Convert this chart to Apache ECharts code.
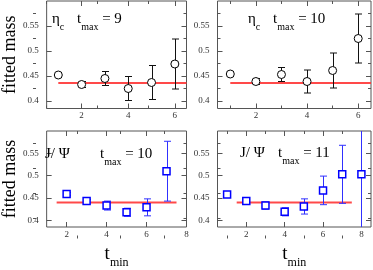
<!DOCTYPE html>
<html><head><meta charset="utf-8">
<script src="https://cdn.jsdelivr.net/npm/echarts@6/dist/echarts.min.js"></script>
<style>html,body{margin:0;padding:0;background:#fff}#c{width:373px;height:270px}</style>
</head><body><div id="c"></div>
<script>
// ---- data ----
const tEtac = [1, 2, 3, 4, 5, 6];
const etacMass9 = [0.452, 0.433, 0.445, 0.425, 0.437, 0.474];
const etacErr9 = [0.003, 0.006, 0.014, 0.024, 0.034, 0.050];
const etacMass10 = [0.454, 0.439, 0.453, 0.439, 0.461, 0.525];
const etacErr10 = [0.003, 0.006, 0.014, 0.023, 0.035, 0.049];
const tJpsi10 = [2, 3, 4, 5, 6, 7];
const jpsiMass10 = [0.459, 0.443, 0.433, 0.418, 0.429, 0.510];
const jpsiErr10 = [0.003, 0.004, 0.010, 0.009, 0.019, 0.067];
const tJpsi11 = [1, 2, 3, 4, 5, 6, 7, 8];
const jpsiMass11 = [0.458, 0.443, 0.433, 0.419, 0.431, 0.467, 0.503, 0.503];
const jpsiErr11 = [0.003, 0.003, 0.008, 0.009, 0.017, 0.032, 0.065, 0.130];
const fitEtac = 0.436;
const fitEtacRange = [1, 6.5];
const fitJpsi = 0.44;
const fitJpsiRange = [1.5, 7.5];
const yTicks = [0.4, 0.45, 0.5, 0.55];
const yMinorTicks = [0.425, 0.475, 0.525, 0.575];
const xTicksEtac = [2, 4, 6];
const xMinorEtac = [1, 3, 5];
const xTicksJpsi = [2, 4, 6, 8];
const xMinorJpsi10 = [3, 5, 7];
const xMinorJpsi11 = [1, 3, 5, 7];
const titlesA = ['\u03b7', '\u03b7', 'J/ \u03a8', 'J/ \u03a8'];
const titlesSub = ['c', 'c', '', ''];
const tmaxVals = ['9', '10', '10', '11'];

// ---- layout / style ----
const FONT = "'Liberation Serif', 'Times New Roman', serif";
const W = 153.5, H = 107.5;
const rects = [{left: 33, top: 1}, {left: 217.5, top: 1}, {left: 33, top: 131}, {left: 217.5, top: 131}];
const panels = [
  {xr: [0.5, 6.5], xMaj: xTicksEtac, xMin: xMinorEtac, t: tEtac, m: etacMass9, e: etacErr9, fv: fitEtac, fr: fitEtacRange, jpsi: false},
  {xr: [0.5, 6.5], xMaj: xTicksEtac, xMin: xMinorEtac, t: tEtac, m: etacMass10, e: etacErr10, fv: fitEtac, fr: fitEtacRange, jpsi: false},
  {xr: [1, 8], xMaj: xTicksJpsi, xMin: xMinorJpsi10, t: tJpsi10, m: jpsiMass10, e: jpsiErr10, fv: fitJpsi, fr: fitJpsiRange, jpsi: true},
  {xr: [0.5, 8.5], xMaj: xTicksJpsi, xMin: xMinorJpsi11, t: tJpsi11, m: jpsiMass11, e: jpsiErr11, fv: fitJpsi, fr: fitJpsiRange, jpsi: true}
];
const frameColor = '#555';
const yRange = [0.385, 0.6];

const grid = [], xAxis = [], yAxis = [], series = [], title = [];
rects.forEach(r => grid.push({left: r.left, top: r.top, width: W, height: H, show: true, borderColor: frameColor, borderWidth: 1, backgroundColor: 'transparent'}));
rects.forEach(r => grid.push({left: r.left, top: r.top, width: W, height: H, show: false}));

function tickAx(base, vals, len, labels) {
  return Object.assign({
    type: 'value', axisLine: {show: false}, splitLine: {show: false},
    axisTick: {show: true, inside: true, length: len, customValues: vals, lineStyle: {color: frameColor, width: 1}},
    axisLabel: labels ? {show: true, customValues: vals, fontFamily: FONT, fontSize: 9, color: '#333', margin: labels} : {show: false}
  }, base);
}

panels.forEach((p, i) => {
  const xb = {gridIndex: i, min: p.xr[0], max: p.xr[1]};
  const yb = {gridIndex: i, min: yRange[0], max: yRange[1]};
  const xBottom = tickAx(Object.assign({position: 'bottom'}, xb), p.xMaj, 5, 3);
  if (p.jpsi) {
    xBottom.name = '{t|t}{s|min}';
    xBottom.nameLocation = 'middle';
    xBottom.nameGap = 18;
    xBottom.nameTextStyle = {rich: {
      t: {fontFamily: FONT, fontSize: 19, lineHeight: 20, verticalAlign: 'top', color: '#000', fontWeight: 'normal'},
      s: {fontFamily: FONT, fontSize: 12, lineHeight: 13, padding: [12, 0, 0, 0], verticalAlign: 'top', color: '#000', fontWeight: 'normal'}
    }};
  }
  xAxis[i] = xBottom;
  xAxis[4 + i] = tickAx(Object.assign({position: 'top'}, xb), p.xMaj, 5, 0);
  xAxis[8 + i] = tickAx({gridIndex: 4 + i, min: p.xr[0], max: p.xr[1], position: 'bottom'}, p.xMin, 3, 0);
  xAxis[12 + i] = tickAx({gridIndex: 4 + i, min: p.xr[0], max: p.xr[1], position: 'top'}, p.xMin, 3, 0);

  const yLeft = tickAx(Object.assign({position: 'left'}, yb), yTicks, 5, 8);
  if (i % 2 === 0) {
    yLeft.name = 'fitted mass';
    yLeft.nameLocation = 'middle';
    yLeft.nameGap = 15;
    yLeft.nameTextStyle = {fontFamily: FONT, fontSize: 18, color: '#000'};
  }
  yAxis[i] = yLeft;
  yAxis[4 + i] = tickAx(Object.assign({position: 'right'}, yb), yTicks, 5, 0);
  yAxis[8 + i] = tickAx({gridIndex: 4 + i, min: yRange[0], max: yRange[1], position: 'left'}, yMinorTicks, 3, 0);
  yAxis[12 + i] = tickAx({gridIndex: 4 + i, min: yRange[0], max: yRange[1], position: 'right'}, yMinorTicks, 3, 0);

  const col = p.jpsi ? '#0000ff' : '#000';
  // fit line
  series.push({type: 'line', xAxisIndex: i, yAxisIndex: i, data: [[p.fr[0], p.fv], [p.fr[1], p.fv]],
    symbol: 'none', lineStyle: {color: '#ff3535', width: 2, opacity: 0.9}, z: 1, silent: true, animation: false});
  // error bars
  series.push({type: 'custom', xAxisIndex: i, yAxisIndex: i, clip: true, z: 2, silent: true, animation: false,
    data: p.t.map((t, k) => [t, p.m[k] - p.e[k], p.m[k] + p.e[k]]),
    renderItem: function (params, api) {
      const x = api.value(0);
      const lo = api.coord([x, api.value(1)]);
      const hi = api.coord([x, api.value(2)]);
      const hw = 3.5, cx = Math.round(lo[0]) + 0.5;
      const st = {stroke: p.jpsi ? '#3030ff' : '#111', lineWidth: 1};
      return {type: 'group', children: [
        {type: 'line', shape: {x1: cx, y1: lo[1], x2: cx, y2: hi[1]}, style: st},
        {type: 'line', shape: {x1: cx - hw, y1: lo[1], x2: cx + hw, y2: lo[1]}, style: st},
        {type: 'line', shape: {x1: cx - hw, y1: hi[1], x2: cx + hw, y2: hi[1]}, style: st}
      ]};
    }
  });
  // symbols
  series.push({type: 'scatter', xAxisIndex: i, yAxisIndex: i, z: 3, silent: true, animation: false,
    data: p.t.map((t, k) => [t, p.m[k]]),
    symbol: p.jpsi ? 'rect' : 'circle', symbolSize: p.jpsi ? 7 : 8,
    itemStyle: {color: '#fff', opacity: 1, borderColor: col, borderWidth: p.jpsi ? 1.5 : 1}
  });
});

// panel labels
const lblRich = {
  a: {fontFamily: FONT, fontSize: 15, lineHeight: 16, verticalAlign: 'top', color: '#000', fontWeight: 'normal'},
  s: {fontFamily: FONT, fontSize: 10, lineHeight: 12, padding: [10, 0, 0, 0], verticalAlign: 'top', color: '#000', fontWeight: 'normal'}
};
const labelPos = [
  {a: 52, b: 77, top: 12}, {a: 248, b: 273, top: 12},
  {a: 45, b: 100, top: 147}, {a: 240, b: 278, top: 146}
];
labelPos.forEach((lp, i) => {
  const first = titlesSub[i] ? '{a|' + titlesA[i] + '}{s|' + titlesSub[i] + '}' : '{a|' + titlesA[i] + '}';
  const ts = {rich: lblRich, fontWeight: 'normal', fontFamily: FONT};
  title.push({text: first, left: lp.a, top: lp.top, padding: 0, textStyle: ts});
  title.push({text: '{a|t}{s|max}{a| = ' + tmaxVals[i] + '}', left: lp.b, top: lp.top, padding: 0, textStyle: ts});
});

const chart = echarts.init(document.getElementById('c'), null, {renderer: 'canvas'});
chart.setOption({animation: false, backgroundColor: '#fff', title, grid, xAxis, yAxis, series});
</script></body></html>
